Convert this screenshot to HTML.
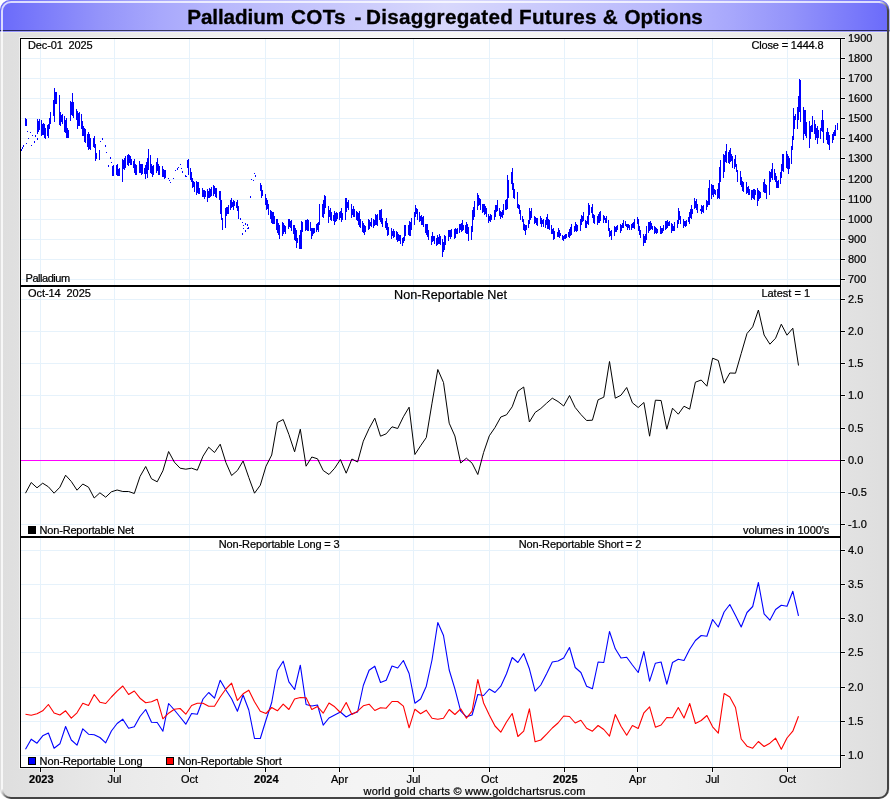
<!DOCTYPE html>
<html><head><meta charset="utf-8"><title>Palladium COTs - Disaggregated Futures &amp; Options</title>
<style>html,body{margin:0;padding:0;background:#fff}body{width:890px;height:800px;overflow:hidden}text{fill:#000;stroke:#000;stroke-width:0.22px}</style>
</head><body>
<svg width="890" height="800" viewBox="0 0 890 800" style="display:block;font-family:'Liberation Sans', sans-serif">
<defs>
<linearGradient id="tg" x1="0" y1="0" x2="1" y2="0">
<stop offset="0" stop-color="#6a6afa"/><stop offset="0.112" stop-color="#9494fa"/><stop offset="0.18" stop-color="#a8a8fc"/><stop offset="0.25" stop-color="#b8b8fc"/><stop offset="0.38" stop-color="#c8c8fc"/><stop offset="0.5" stop-color="#d8d8fc"/><stop offset="0.62" stop-color="#c8c8fc"/><stop offset="0.75" stop-color="#b8b8fc"/><stop offset="0.82" stop-color="#a8a8fc"/><stop offset="0.888" stop-color="#9494fa"/><stop offset="1" stop-color="#6a6afa"/>
</linearGradient>
<linearGradient id="bg" x1="0" y1="0" x2="1" y2="0">
<stop offset="0" stop-color="#dedede"/><stop offset="0.07" stop-color="#e4e4e4"/><stop offset="0.15" stop-color="#ebebeb"/><stop offset="0.25" stop-color="#f0f0f0"/><stop offset="0.4" stop-color="#f4f4f4"/><stop offset="0.5" stop-color="#f5f5f5"/><stop offset="0.6" stop-color="#f4f4f4"/><stop offset="0.75" stop-color="#f0f0f0"/><stop offset="0.85" stop-color="#ebebeb"/><stop offset="0.93" stop-color="#e4e4e4"/><stop offset="1" stop-color="#dedede"/>
</linearGradient>
<linearGradient id="cbl" gradientUnits="userSpaceOnUse" x1="2" y1="789" x2="9" y2="798"><stop offset="0" stop-color="#f4f4f4"/><stop offset="1" stop-color="#444"/></linearGradient>
<linearGradient id="ctr" gradientUnits="userSpaceOnUse" x1="879" y1="2" x2="888" y2="10"><stop offset="0" stop-color="#e8e8ff"/><stop offset="1" stop-color="#444"/></linearGradient>
<clipPath id="fr"><rect x="0" y="0" width="889.5" height="799" rx="10" ry="10"/></clipPath>
</defs>
<g clip-path="url(#fr)">
<rect x="0" y="0" width="890" height="800" fill="url(#bg)"/>
<rect x="0" y="0" width="890" height="30" fill="url(#tg)"/>
<rect x="0" y="30" width="890" height="1" fill="url(#tg)"/><rect x="0" y="30" width="890" height="1" fill="#000010" fill-opacity="0.66"/>
<rect x="0" y="31" width="890" height="1" fill="url(#tg)"/><rect x="0" y="31" width="890" height="1" fill="#fff" fill-opacity="0.25"/>
<rect x="0" y="32" width="890" height="1" fill="#ffffe0" fill-opacity="0.3"/>
</g>
<path d="M2 789 V11 A9 9 0 0 1 11 2 H879" fill="none" stroke="#ffffff" stroke-opacity="0.75" stroke-width="2"/>
<path d="M888 11 V789 A9 9 0 0 1 879 798 H11" fill="none" stroke="#444444" stroke-width="2"/>
<path d="M879 2 A9 9 0 0 1 888 11" fill="none" stroke="url(#ctr)" stroke-width="2"/>
<path d="M11 798 A9 9 0 0 1 2 789" fill="none" stroke="url(#cbl)" stroke-width="2"/>
<rect x="19" y="37" width="823" height="732" fill="#ffffff" fill-opacity="0.45"/>
<rect x="20" y="38" width="821" height="730" fill="#ffffff"/>
<path d="M40 38V767 M114 38V767 M189 38V767 M265 38V767 M339 38V767 M413 38V767 M489 38V767 M564 38V767 M637 38V767 M712 38V767 M787 38V767 M20 58H840 M20 78H840 M20 98H840 M20 118H840 M20 138H840 M20 158H840 M20 179H840 M20 199H840 M20 219H840 M20 239H840 M20 259H840 M20 279H840 M20 299H840 M20 331H840 M20 363H840 M20 395H840 M20 428H840 M20 460H840 M20 492H840 M20 524H840 M20 550H840 M20 584H840 M20 618H840 M20 652H840 M20 687H840 M20 721H840 M20 755H840" transform="translate(0.5,0.5)" stroke="#e6f2fb" stroke-width="1" fill="none" shape-rendering="crispEdges"/>
<path d="M25 118v8M26 119v7M37 119v15M38 121v11M39 119v11M41 120v16M42 124v11M43 123v12M44 124v14M45 128v11M47 125v11M48 124v14M49 118v11M50 114v10M50 112v10M53 100v16M54 88v34M54 90v14M55 92v12M56 92v12M59 95v20M59 110v15M60 112v14M61 115v7M62 114v10M64 116v16M65 120v13M66 118v20M67 128v10M68 130v8M70 101v20M71 102v13M72 93v20M72 100v16M73 102v16M76 109v11M77 111v9M77 111v18M78 113v13M79 112v14M81 114v15M82 121v15M83 126v10M84 128v14M85 129v14M87 134v13M88 132v18M89 134v15M90 138v12M90 140v8M93 138v9M94 136v12M95 144v9M95 150v11M96 153v6M99 150v10M99 151v8M112 166v10M113 167v6M113 165v11M116 165v10M117 167v8M117 164v12M118 169v7M119 168v8M122 166v16M122 159v14M123 160v9M124 158v12M125 156v12M127 155v10M128 154v12M129 155v8M130 156v9M131 159v6M133 161v7M134 159v14M135 164v11M135 167v7M136 165v10M139 161v12M140 164v7M140 165v8M141 164v11M142 164v10M144 168v6M145 165v14M146 162v12M147 158v20M148 149v21M150 155v18M151 164v10M152 166v11M153 168v5M153 165v10M156 162v11M157 158v13M158 164v8M158 164v11M159 166v9M162 166v11M162 168v7M163 169v8M164 170v9M165 170v8M187 160v8M188 159v16M190 168v12M191 172v10M192 178v10M193 181v6M194 182v10M196 181v14M197 182v11M198 182v12M198 185v6M199 188v6M202 188v9M203 190v4M203 190v7M204 190v9M205 191v6M207 189v13M208 191v7M209 188v10M210 189v8M211 187v9M213 185v11M214 186v8M215 188v9M216 188v8M216 190v8M219 191v9M220 191v15M220 200v14M221 200v20M222 218v12M225 212v16M225 208v11M226 207v9M227 207v7M228 205v9M230 200v10M231 198v10M232 202v5M233 200v10M234 201v5M236 202v6M237 200v11M238 206v13M238 208v10M260 183v8M261 186v5M261 185v13M262 190v6M265 194v11M265 196v9M266 198v12M267 200v9M268 204v11M270 210v9M271 211v12M272 212v12M273 212v12M274 216v8M276 219v11M277 219v14M278 223v12M279 225v14M279 228v6M282 222v14M283 223v11M283 224v9M284 225v7M285 226v8M288 220v9M288 219v6M289 219v8M290 221v7M291 220v11M293 225v9M294 225v15M295 228v13M296 230v18M297 238v5M299 235v14M300 230v19M301 221v28M301 226v7M302 222v10M305 220v11M306 221v8M306 220v10M307 219v12M308 220v11M310 222v9M311 228v11M312 228v8M313 228v6M314 228v5M316 224v8M317 223v7M318 222v10M319 204v21M319 205v10M322 204v13M323 200v18M324 199v15M324 195v18M325 196v12M328 206v12M328 209v14M329 210v7M330 208v12M331 212v9M333 215v6M334 211v14M335 213v9M336 212v9M337 213v6M339 212v8M340 211v7M341 208v14M342 213v7M342 214v6M345 198v22M346 202v9M346 198v14M347 202v6M348 200v10M351 204v10M351 206v12M352 209v6M353 206v11M354 209v8M356 211v9M357 212v9M358 213v12M359 211v16M360 219v9M362 221v11M363 223v10M364 225v10M364 226v6M365 226v6M368 219v11M369 222v6M369 220v9M370 222v4M371 218v9M373 219v9M374 220v6M375 214v11M376 215v10M377 214v12M379 210v10M380 210v12M381 209v15M382 218v9M382 219v5M385 221v7M386 218v12M387 223v7M387 225v11M388 227v8M391 229v10M391 228v10M392 231v5M393 229v9M394 231v6M396 231v9M397 232v10M398 234v7M399 235v6M400 235v9M402 238v8M403 237v6M404 225v16M405 227v9M405 225v10M408 225v10M409 221v15M409 222v13M410 222v14M411 218v12M414 214v11M414 212v6M415 205v12M416 208v6M417 209v11M419 212v10M420 216v5M421 215v10M422 217v8M423 216v11M425 224v9M426 224v11M427 224v12M427 231v6M428 230v10M431 236v9M432 235v5M432 232v10M433 236v5M434 236v8M436 238v8M437 235v10M438 237v7M439 234v10M440 236v9M442 239v18M443 242v10M444 235v15M445 236v9M445 236v6M448 230v11M449 230v7M450 230v9M450 230v6M451 229v8M454 229v10M454 230v6M455 228v10M456 229v5M457 228v6M459 224v9M460 224v6M461 223v9M462 220v11M463 225v5M465 225v8M466 222v12M467 224v10M468 227v10M468 228v13M471 226v14M472 223v9M472 210v18M473 207v13M474 201v16M477 200v10M477 193v16M478 195v11M479 198v7M480 199v11M482 204v9M483 204v8M484 204v11M485 206v8M486 208v9M488 214v9M489 216v5M490 214v8M490 215v4M491 215v5M494 210v10M495 211v6M495 205v10M496 205v7M497 200v11M499 208v8M500 211v8M501 212v5M502 210v8M503 204v11M505 200v10M506 199v11M507 175v34M508 180v18M508 180v12M511 172v12M512 168v22M513 183v8M513 188v10M514 189v10M517 192v12M517 199v9M518 204v5M519 205v9M520 210v10M522 216v6M523 219v11M524 224v7M525 225v10M526 225v5M528 220v8M529 208v16M530 211v9M531 208v8M531 210v8M534 216v8M535 217v6M535 217v6M536 218v7M537 218v8M540 216v8M540 217v6M541 218v9M542 220v4M543 219v8M545 220v8M546 217v8M547 214v15M548 219v10M549 220v10M551 225v9M552 229v5M553 228v12M553 230v6M554 231v8M557 232v5M558 230v6M558 228v9M559 230v8M560 233v3M562 235v5M563 236v5M564 235v4M565 234v5M566 234v4M568 232v5M569 229v9M570 227v9M571 224v11M571 228v6M574 226v6M575 222v9M576 225v6M576 224v8M577 225v6M580 220v11M580 219v10M581 215v10M582 216v6M583 212v9M585 220v8M586 221v7M587 216v8M588 203v22M589 205v10M591 207v6M592 204v14M593 214v9M594 215v7M594 219v5M597 216v9M598 215v7M598 214v9M599 212v11M600 211v10M603 218v4M603 215v8M604 216v4M605 218v5M606 216v7M608 220v11M609 228v9M610 231v5M611 232v8M611 230v5M614 226v10M615 227v5M616 226v6M616 226v6M617 225v5M620 224v9M620 226v5M621 225v6M622 223v5M623 220v8M625 221v5M626 224v3M627 224v6M628 224v4M629 225v5M631 224v6M632 223v5M633 222v6M634 219v10M634 219v6M637 217v7M638 219v5M638 219v12M639 226v9M640 230v8M643 234v12M643 235v9M644 236v7M645 234v9M646 226v14M648 222v11M649 222v9M650 221v9M651 223v6M652 226v4M654 226v8M655 227v6M656 228v6M656 229v4M657 229v4M660 226v8M661 228v6M661 228v5M662 228v5M663 225v6M665 221v9M666 221v8M667 220v8M668 222v4M669 221v5M671 223v10M672 224v7M673 226v5M674 225v6M674 222v5M677 220v8M678 208v16M679 212v8M679 211v9M680 216v8M683 219v9M683 221v5M684 221v5M685 221v6M686 220v6M688 217v5M689 212v12M690 209v9M691 205v14M692 209v5M694 198v11M695 201v7M696 199v11M697 204v7M697 205v8M700 209v2M701 205v9M701 206v7M702 206v6M703 205v8M706 200v10M706 201v6M707 201v6M708 188v17M709 180v25M711 184v15M712 185v10M713 185v12M714 189v5M715 190v5M717 189v10M718 183v15M719 175v24M719 167v18M720 160v22M723 154v24M724 155v17M724 155v15M725 151v11M726 144v19M728 152v11M729 150v14M730 148v14M731 154v7M732 156v12M734 159v10M735 155v12M736 164v8M737 170v12M737 175v6M740 171v14M741 177v10M742 181v10M742 182v9M743 182v10M746 182v11M746 186v8M747 187v6M748 186v9M749 189v6M751 190v10M752 190v8M753 189v10M754 189v11M755 190v5M757 188v18M758 190v11M759 191v8M760 192v6M760 192v2M763 182v10M764 182v10M764 179v14M765 184v9M766 185v14M769 184v11M769 171v16M770 172v10M771 169v9M772 163v17M774 169v11M775 173v9M776 176v12M777 181v7M778 180v8M780 172v12M781 164v14M782 163v8M782 154v15M783 154v18M786 151v17M787 154v15M787 156v13M788 156v18M789 158v11M791 146v18M792 136v14M793 108v32M794 116v13M795 114v6M797 107v22M798 96v24M799 79v33M800 87v19M800 80v42M803 107v33M804 110v24M805 110v26M805 118v16M806 122v16M809 121v27M809 126v12M810 126v13M811 125v7M812 116v16M814 120v14M815 124v16M816 128v10M817 126v18M818 130v8M820 128v11M821 120v11M822 110v22M823 120v18M823 124v19M826 132v8M827 129v14M827 128v16M828 132v13M829 135v15M832 134v9M832 134v6M833 132v8M834 130v6M835 125v11M837 123v7" transform="translate(0.5,0)" stroke="#0000ff" stroke-width="1" fill="none" shape-rendering="crispEdges"/>
<path d="M21 149h1v2h-1zM22 147h1v2h-1zM23 145h1v2h-1zM26 143h1v1h-1zM27 131h1v1h-1zM28 138h1v1h-1zM30 132h1v1h-1zM31 145h1v1h-1zM32 135h1v1h-1zM34 141h1v2h-1zM37 138h1v2h-1zM35 135h1v2h-1zM100 141h1v1h-1zM102 138h1v2h-1zM105 145h1v2h-1zM106 152h1v1h-1zM108 165h1v2h-1zM110 157h1v2h-1zM111 162h1v1h-1zM168 178h1v1h-1zM170 182h1v1h-1zM173 178h1v1h-1zM175 170h1v1h-1zM177 168h1v2h-1zM180 164h1v1h-1zM181 168h1v1h-1zM182 171h1v2h-1zM185 175h1v2h-1zM186 176h1v1h-1zM169 180h1v1h-1zM178 167h1v1h-1zM242 222h1v1h-1zM243 225h1v1h-1zM245 223h1v2h-1zM243 228h1v1h-1zM245 230h1v1h-1zM247 224h1v2h-1zM248 227h1v2h-1zM242 233h1v2h-1zM245 231h1v1h-1zM247 228h1v1h-1zM250 196h1v2h-1zM251 179h1v1h-1zM253 180h1v1h-1zM254 173h1v1h-1zM255 175h1v2h-1zM240 218h1v2h-1z" fill="#0000ff" shape-rendering="crispEdges"/>
<rect x="21" y="460" width="824" height="1" fill="#ff00ff"/>
<polyline points="25.5,493.2 31.2,482.5 37.0,487.8 42.7,483.2 48.4,486.8 54.1,493.2 59.9,487.2 65.6,475.2 71.3,481.5 77.0,490.2 82.8,484.0 88.5,487.2 94.2,498.0 99.9,492.8 105.7,497.2 111.4,491.8 117.1,490.0 122.8,491.5 128.6,491.5 134.3,493.5 140.0,476.5 145.7,466.5 151.5,478.8 157.2,481.8 162.9,470.8 168.6,451.5 174.4,462.2 180.1,468.2 185.8,469.2 191.6,468.2 197.3,470.2 203.0,456.2 208.7,447.2 214.5,452.5 220.2,444.2 225.9,462.5 231.6,475.5 237.4,470.5 243.1,461.0 248.8,477.5 254.5,493.2 260.3,485.2 266.0,466.2 271.7,455.0 277.4,422.5 283.2,419.5 288.9,434.5 294.6,451.8 300.3,429.2 306.1,466.2 311.8,457.0 317.5,458.8 323.2,470.5 329.0,474.5 334.7,468.2 340.4,459.5 346.2,473.2 351.9,459.0 357.6,462.0 363.3,441.2 369.1,428.5 374.8,418.2 380.5,436.2 386.2,433.8 392.0,426.8 397.7,428.5 403.4,416.8 409.1,407.2 414.9,454.5 420.6,445.8 426.3,437.5 432.0,403.2 437.8,369.5 443.5,382.5 449.2,423.2 454.9,436.0 460.7,463.0 466.4,458.2 472.1,463.2 477.8,474.5 483.6,452.5 489.3,435.8 495.0,427.5 500.8,417.0 506.5,414.8 512.2,406.8 517.9,391.2 523.7,387.0 529.4,422.0 535.1,412.5 540.8,408.5 546.6,403.2 552.3,398.2 558.0,401.5 563.7,406.0 569.5,395.5 575.2,407.5 580.9,414.5 586.6,420.5 592.4,420.2 598.1,399.8 603.8,397.2 609.5,361.5 615.3,398.2 621.0,395.2 626.7,387.5 632.4,402.8 638.2,407.5 643.9,402.5 649.6,436.2 655.4,400.2 661.1,400.5 666.8,429.2 672.5,408.2 678.3,414.2 684.0,406.2 689.7,409.2 695.4,382.2 701.2,380.0 706.9,386.2 712.6,358.2 718.3,360.5 724.1,383.2 729.8,373.0 735.5,373.2 741.2,353.5 747.0,333.5 752.7,326.8 758.4,310.0 764.1,335.0 769.9,344.2 775.6,338.2 781.3,324.2 787.0,335.2 792.8,328.2 798.5,365.5" fill="none" stroke="#000000" stroke-width="1.0" stroke-linejoin="round"/>
<polyline points="25.5,749.2 31.2,739.2 37.0,743.2 42.7,735.8 48.4,733.0 54.1,748.2 59.9,743.8 65.6,726.5 71.3,740.0 77.0,745.2 82.8,728.8 88.5,734.2 94.2,734.8 99.9,737.5 105.7,742.8 111.4,731.0 117.1,723.5 122.8,719.2 128.6,728.2 134.3,726.8 140.0,716.5 145.7,709.5 151.5,722.2 157.2,722.5 162.9,731.2 168.6,703.5 174.4,710.0 180.1,717.0 185.8,724.2 191.6,713.5 197.3,714.2 203.0,699.0 208.7,692.5 214.5,698.2 220.2,680.2 225.9,690.0 231.6,698.8 237.4,711.2 243.1,695.0 248.8,710.0 254.5,738.5 260.3,738.5 266.0,720.0 271.7,702.5 277.4,670.5 283.2,661.2 288.9,681.8 294.6,689.5 300.3,665.2 306.1,704.5 311.8,706.0 317.5,705.0 323.2,725.2 329.0,718.0 334.7,715.0 340.4,712.0 346.2,717.0 351.9,713.8 357.6,712.0 363.3,685.5 369.1,670.2 374.8,666.2 380.5,682.5 386.2,680.2 392.0,666.0 397.7,668.0 403.4,660.5 409.1,673.5 414.9,703.2 420.6,699.0 426.3,686.2 432.0,660.0 437.8,622.5 443.5,635.5 449.2,670.0 454.9,688.8 460.7,711.2 466.4,716.8 472.1,715.0 477.8,694.5 483.6,695.5 489.3,689.0 495.0,692.5 500.8,686.2 506.5,673.8 512.2,657.5 517.9,662.5 523.7,653.5 529.4,668.8 535.1,691.2 540.8,685.0 546.6,673.8 552.3,662.0 558.0,661.0 563.7,658.0 569.5,647.5 575.2,667.5 580.9,672.5 586.6,686.2 592.4,688.8 598.1,662.0 603.8,662.5 609.5,631.5 615.3,648.8 621.0,658.0 626.7,657.2 632.4,665.0 638.2,672.5 643.9,651.5 649.6,681.2 655.4,663.2 661.1,662.0 666.8,684.2 672.5,662.5 678.3,659.2 684.0,660.5 689.7,649.2 695.4,640.5 701.2,635.5 706.9,636.2 712.6,619.5 718.3,627.0 724.1,612.0 729.8,604.5 735.5,615.5 741.2,627.0 747.0,612.5 752.7,606.5 758.4,582.5 764.1,613.8 769.9,620.2 775.6,609.5 781.3,605.2 787.0,606.2 792.8,591.2 798.5,615.8" fill="none" stroke="#0000ff" stroke-width="1.1" stroke-linejoin="round"/>
<polyline points="25.5,714.2 31.2,715.2 37.0,713.8 42.7,710.8 48.4,704.5 54.1,713.0 59.9,715.0 65.6,710.8 71.3,718.2 77.0,712.8 82.8,703.2 88.5,705.5 94.2,694.5 99.9,702.2 105.7,703.5 111.4,697.0 117.1,691.2 122.8,686.0 128.6,694.5 134.3,691.0 140.0,698.2 145.7,702.8 151.5,701.8 157.2,699.2 162.9,718.8 168.6,713.2 174.4,709.2 180.1,708.5 185.8,714.2 191.6,705.5 197.3,703.2 203.0,703.2 208.7,706.2 214.5,706.2 220.2,697.0 225.9,689.0 231.6,683.2 237.4,700.5 243.1,693.8 248.8,690.2 254.5,701.8 260.3,711.2 266.0,713.5 271.7,707.5 277.4,710.8 283.2,704.2 288.9,709.5 294.6,699.0 300.3,697.5 306.1,697.8 311.8,709.5 317.5,706.5 323.2,713.2 329.0,703.0 334.7,706.8 340.4,712.5 346.2,702.5 351.9,714.5 357.6,711.2 363.3,705.8 369.1,704.2 374.8,710.5 380.5,707.8 386.2,708.2 392.0,701.5 397.7,701.5 403.4,706.2 409.1,727.8 414.9,709.2 420.6,713.8 426.3,710.2 432.0,718.2 437.8,719.2 443.5,718.2 449.2,709.5 454.9,714.5 460.7,708.8 466.4,718.2 472.1,711.2 477.8,679.5 483.6,703.0 489.3,715.0 495.0,726.0 500.8,732.2 506.5,722.0 512.2,713.5 517.9,736.5 523.7,731.2 529.4,708.8 535.1,741.8 540.8,740.0 546.6,734.2 552.3,728.0 558.0,723.0 563.7,716.0 569.5,716.5 575.2,723.0 580.9,720.2 586.6,728.2 592.4,731.2 598.1,725.5 603.8,729.5 609.5,736.2 615.3,714.5 621.0,726.2 626.7,735.2 632.4,725.5 638.2,728.5 643.9,712.8 649.6,706.8 655.4,727.2 661.1,725.0 666.8,717.5 672.5,717.8 678.3,707.5 684.0,718.0 689.7,703.5 695.4,723.5 701.2,720.5 706.9,715.5 712.6,726.8 718.3,733.2 724.1,693.5 729.8,697.0 735.5,707.5 741.2,739.0 747.0,746.2 752.7,748.2 758.4,741.5 764.1,746.5 769.9,743.2 775.6,738.2 781.3,749.2 787.0,738.0 792.8,731.2 798.5,716.2" fill="none" stroke="#ff0000" stroke-width="1.1" stroke-linejoin="round"/>
<rect x="20" y="38" width="821" height="1" fill="#000"/>
<rect x="20" y="38" width="1" height="730" fill="#000"/>
<rect x="840" y="38" width="1" height="730" fill="#000"/>
<rect x="20" y="767" width="821" height="1" fill="#000"/>
<rect x="20" y="285" width="821" height="2" fill="#000"/>
<rect x="20" y="536" width="821" height="2" fill="#000"/>
<g fill="#ffffff" fill-opacity="0.45"><rect x="841" y="37" width="5" height="3"/><rect x="841" y="57" width="5" height="3"/><rect x="841" y="77" width="5" height="3"/><rect x="841" y="97" width="5" height="3"/><rect x="841" y="117" width="5" height="3"/><rect x="841" y="137" width="5" height="3"/><rect x="841" y="157" width="5" height="3"/><rect x="841" y="178" width="5" height="3"/><rect x="841" y="198" width="5" height="3"/><rect x="841" y="218" width="5" height="3"/><rect x="841" y="238" width="5" height="3"/><rect x="841" y="258" width="5" height="3"/><rect x="841" y="278" width="5" height="3"/><rect x="841" y="298" width="5" height="3"/><rect x="841" y="330" width="5" height="3"/><rect x="841" y="362" width="5" height="3"/><rect x="841" y="394" width="5" height="3"/><rect x="841" y="427" width="5" height="3"/><rect x="841" y="459" width="5" height="3"/><rect x="841" y="491" width="5" height="3"/><rect x="841" y="523" width="5" height="3"/><rect x="841" y="549" width="5" height="3"/><rect x="841" y="583" width="5" height="3"/><rect x="841" y="617" width="5" height="3"/><rect x="841" y="651" width="5" height="3"/><rect x="841" y="686" width="5" height="3"/><rect x="841" y="720" width="5" height="3"/><rect x="841" y="754" width="5" height="3"/><rect x="39" y="768" width="3" height="5"/><rect x="113" y="768" width="3" height="5"/><rect x="188" y="768" width="3" height="5"/><rect x="264" y="768" width="3" height="5"/><rect x="338" y="768" width="3" height="5"/><rect x="412" y="768" width="3" height="5"/><rect x="488" y="768" width="3" height="5"/><rect x="563" y="768" width="3" height="5"/><rect x="636" y="768" width="3" height="5"/><rect x="711" y="768" width="3" height="5"/><rect x="786" y="768" width="3" height="5"/></g>
<g fill="#000"><rect x="840" y="38" width="5" height="1"/><rect x="840" y="58" width="5" height="1"/><rect x="840" y="78" width="5" height="1"/><rect x="840" y="98" width="5" height="1"/><rect x="840" y="118" width="5" height="1"/><rect x="840" y="138" width="5" height="1"/><rect x="840" y="158" width="5" height="1"/><rect x="840" y="179" width="5" height="1"/><rect x="840" y="199" width="5" height="1"/><rect x="840" y="219" width="5" height="1"/><rect x="840" y="239" width="5" height="1"/><rect x="840" y="259" width="5" height="1"/><rect x="840" y="279" width="5" height="1"/><rect x="840" y="299" width="5" height="1"/><rect x="840" y="331" width="5" height="1"/><rect x="840" y="363" width="5" height="1"/><rect x="840" y="395" width="5" height="1"/><rect x="840" y="428" width="5" height="1"/><rect x="840" y="460" width="5" height="1"/><rect x="840" y="492" width="5" height="1"/><rect x="840" y="524" width="5" height="1"/><rect x="840" y="550" width="5" height="1"/><rect x="840" y="584" width="5" height="1"/><rect x="840" y="618" width="5" height="1"/><rect x="840" y="652" width="5" height="1"/><rect x="840" y="687" width="5" height="1"/><rect x="840" y="721" width="5" height="1"/><rect x="840" y="755" width="5" height="1"/><rect x="40" y="767" width="1" height="5"/><rect x="114" y="767" width="1" height="5"/><rect x="189" y="767" width="1" height="5"/><rect x="265" y="767" width="1" height="5"/><rect x="339" y="767" width="1" height="5"/><rect x="413" y="767" width="1" height="5"/><rect x="489" y="767" width="1" height="5"/><rect x="564" y="767" width="1" height="5"/><rect x="637" y="767" width="1" height="5"/><rect x="712" y="767" width="1" height="5"/><rect x="787" y="767" width="1" height="5"/></g>
<text y="23.7" font-size="20.7" font-weight="bold" style="stroke-width:0.3px"><tspan x="187.2" letter-spacing="-0.1">Palladium</tspan> <tspan x="291.0" letter-spacing="0.3">COTs</tspan> <tspan x="354.6" letter-spacing="0">-</tspan> <tspan x="366.0" letter-spacing="0.27">Disaggregated</tspan> <tspan x="519.0" letter-spacing="0.27">Futures</tspan> <tspan x="602.8" letter-spacing="0.3">&amp;</tspan> <tspan x="624.4" letter-spacing="0.05">Options</tspan></text>
<text x="28" y="48.5" font-size="11" text-anchor="start" textLength="64.7" lengthAdjust="spacing" xml:space="preserve">Dec-01  2025</text>
<text x="751.6" y="48.5" font-size="11" text-anchor="start" textLength="71.9" lengthAdjust="spacing" xml:space="preserve">Close = 1444.8</text>
<text x="25.6" y="281.7" font-size="11" text-anchor="start" textLength="44.5" lengthAdjust="spacing" xml:space="preserve">Palladium</text>
<text x="28" y="297.0" font-size="11" text-anchor="start" textLength="62.8" lengthAdjust="spacing" xml:space="preserve">Oct-14  2025</text>
<text x="394" y="298.5" font-size="12.6" text-anchor="start" textLength="113" lengthAdjust="spacing" xml:space="preserve">Non-Reportable Net</text>
<text x="810" y="296.7" font-size="11" text-anchor="end" xml:space="preserve">Latest = 1</text>
<text x="39.6" y="533.8" font-size="11" text-anchor="start" textLength="94.5" lengthAdjust="spacing" xml:space="preserve">Non-Reportable Net</text>
<text x="743" y="533.8" font-size="11" text-anchor="start" textLength="86.2" lengthAdjust="spacing" xml:space="preserve">volumes in 1000's</text>
<text x="218.8" y="547.8" font-size="11" text-anchor="start" textLength="120.9" lengthAdjust="spacing" xml:space="preserve">Non-Reportable Long = 3</text>
<text x="518.8" y="547.8" font-size="11" text-anchor="start" textLength="122.5" lengthAdjust="spacing" xml:space="preserve">Non-Reportable Short = 2</text>
<text x="39.6" y="764.8" font-size="11" text-anchor="start" textLength="102.9" lengthAdjust="spacing" xml:space="preserve">Non-Reportable Long</text>
<text x="177.5" y="764.8" font-size="11" text-anchor="start" textLength="104.2" lengthAdjust="spacing" xml:space="preserve">Non-Reportable Short</text>
<rect x="28" y="526" width="8" height="8" fill="#000"/>
<rect x="28.5" y="757.5" width="7" height="7" fill="#0000ff" stroke="#000" stroke-width="1"/>
<rect x="166.5" y="757.5" width="7" height="7" fill="#ff0000" stroke="#000" stroke-width="1"/>
<text x="848" y="42.3" font-size="11" text-anchor="start" xml:space="preserve">1900</text>
<text x="848" y="62.3" font-size="11" text-anchor="start" xml:space="preserve">1800</text>
<text x="848" y="82.3" font-size="11" text-anchor="start" xml:space="preserve">1700</text>
<text x="848" y="102.3" font-size="11" text-anchor="start" xml:space="preserve">1600</text>
<text x="848" y="122.3" font-size="11" text-anchor="start" xml:space="preserve">1500</text>
<text x="848" y="142.3" font-size="11" text-anchor="start" xml:space="preserve">1400</text>
<text x="848" y="162.3" font-size="11" text-anchor="start" xml:space="preserve">1300</text>
<text x="848" y="183.3" font-size="11" text-anchor="start" xml:space="preserve">1200</text>
<text x="848" y="203.3" font-size="11" text-anchor="start" xml:space="preserve">1100</text>
<text x="848" y="223.3" font-size="11" text-anchor="start" xml:space="preserve">1000</text>
<text x="848" y="243.3" font-size="11" text-anchor="start" xml:space="preserve">900</text>
<text x="848" y="263.3" font-size="11" text-anchor="start" xml:space="preserve">800</text>
<text x="848" y="283.3" font-size="11" text-anchor="start" xml:space="preserve">700</text>
<text x="848" y="303.3" font-size="11" text-anchor="start" xml:space="preserve">2.5</text>
<text x="848" y="335.3" font-size="11" text-anchor="start" xml:space="preserve">2.0</text>
<text x="848" y="367.3" font-size="11" text-anchor="start" xml:space="preserve">1.5</text>
<text x="848" y="399.3" font-size="11" text-anchor="start" xml:space="preserve">1.0</text>
<text x="848" y="432.3" font-size="11" text-anchor="start" xml:space="preserve">0.5</text>
<text x="848" y="464.3" font-size="11" text-anchor="start" xml:space="preserve">0.0</text>
<text x="848" y="496.3" font-size="11" text-anchor="start" xml:space="preserve">-0.5</text>
<text x="848" y="528.3" font-size="11" text-anchor="start" xml:space="preserve">-1.0</text>
<text x="848" y="554.3" font-size="11" text-anchor="start" xml:space="preserve">4.0</text>
<text x="848" y="588.3" font-size="11" text-anchor="start" xml:space="preserve">3.5</text>
<text x="848" y="622.3" font-size="11" text-anchor="start" xml:space="preserve">3.0</text>
<text x="848" y="656.3" font-size="11" text-anchor="start" xml:space="preserve">2.5</text>
<text x="848" y="691.3" font-size="11" text-anchor="start" xml:space="preserve">2.0</text>
<text x="848" y="725.3" font-size="11" text-anchor="start" xml:space="preserve">1.5</text>
<text x="848" y="759.3" font-size="11" text-anchor="start" xml:space="preserve">1.0</text>
<text x="41.3" y="783" font-size="11" text-anchor="middle" font-weight="bold" xml:space="preserve">2023</text>
<text x="114.5" y="783" font-size="11" text-anchor="middle" xml:space="preserve">Jul</text>
<text x="189.5" y="783" font-size="11" text-anchor="middle" xml:space="preserve">Oct</text>
<text x="266.3" y="783" font-size="11" text-anchor="middle" font-weight="bold" xml:space="preserve">2024</text>
<text x="339.5" y="783" font-size="11" text-anchor="middle" xml:space="preserve">Apr</text>
<text x="413.5" y="783" font-size="11" text-anchor="middle" xml:space="preserve">Jul</text>
<text x="489.5" y="783" font-size="11" text-anchor="middle" xml:space="preserve">Oct</text>
<text x="565.3" y="783" font-size="11" text-anchor="middle" font-weight="bold" xml:space="preserve">2025</text>
<text x="637.5" y="783" font-size="11" text-anchor="middle" xml:space="preserve">Apr</text>
<text x="712.5" y="783" font-size="11" text-anchor="middle" xml:space="preserve">Jul</text>
<text x="787.5" y="783" font-size="11" text-anchor="middle" xml:space="preserve">Oct</text>
<text x="363.5" y="795" font-size="11" text-anchor="start" textLength="221.9" lengthAdjust="spacing" xml:space="preserve">world gold charts © www.goldchartsrus.com</text>
</svg>
</body></html>
